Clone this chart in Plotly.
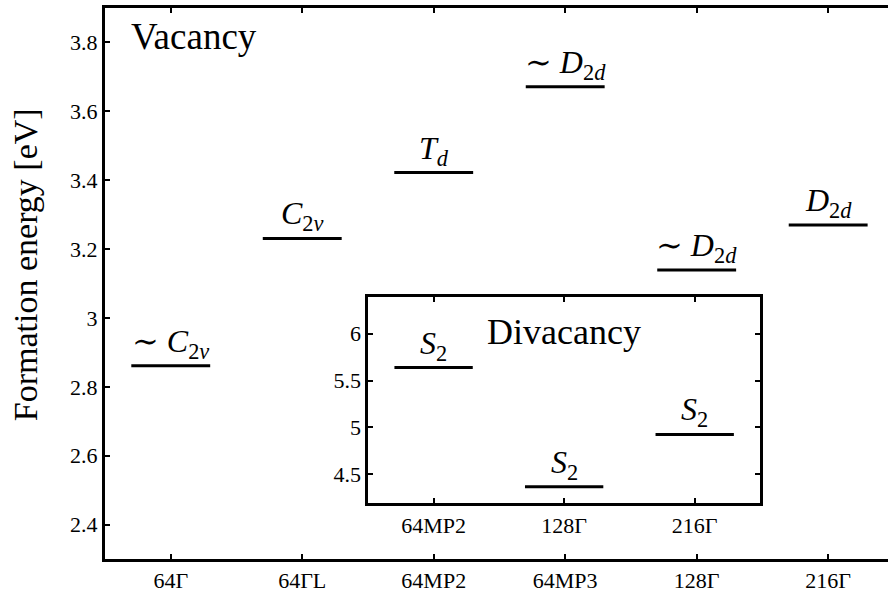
import plotly.graph_objects as go

# ---- data ----
vac_categories = ["64Γ", "64ΓL", "64MP2", "64MP3", "128Γ", "216Γ"]
vac_energies = [2.861, 3.231, 3.422, 3.671, 3.139, 3.270]
vac_symmetry = ["∼ <i>C</i><sub>2<i>v</i></sub>", "<i>C</i><sub>2<i>v</i></sub>",
                "<i>T</i><sub><i>d</i></sub>", "∼ <i>D</i><sub>2<i>d</i></sub>",
                "∼ <i>D</i><sub>2<i>d</i></sub>", "<i>D</i><sub>2<i>d</i></sub>"]

div_categories = ["64MP2", "128Γ", "216Γ"]
div_energies = [5.64, 4.367, 4.926]
div_symmetry = ["<i>S</i><sub>2</sub>", "<i>S</i><sub>2</sub>", "<i>S</i><sub>2</sub>"]

vac_yticks = [2.4, 2.6, 2.8, 3.0, 3.2, 3.4, 3.6, 3.8]
vac_yticktext = ["2.4", "2.6", "2.8", "3", "3.2", "3.4", "3.6", "3.8"]
div_yticks = [4.5, 5.0, 5.5, 6.0]
div_yticktext = ["4.5", "5", "5.5", "6"]

HALF = 0.3
FONT = "'Times New Roman', 'Liberation Serif', 'DejaVu Serif', serif"

fig = go.Figure()

def level_trace(positions, values, xa, ya):
    xs, ys = [], []
    for p, v in zip(positions, values):
        xs += [p - HALF, p + HALF, None]
        ys += [v, v, None]
    return go.Scatter(x=xs, y=ys, mode="lines", line=dict(color="black", width=3),
                      xaxis=xa, yaxis=ya, hoverinfo="skip", showlegend=False)

vac_pos = list(range(1, len(vac_categories) + 1))
div_pos = list(range(1, len(div_categories) + 1))

fig.add_trace(level_trace(vac_pos, vac_energies, "x", "y"))
fig.add_trace(level_trace(div_pos, div_energies, "x2", "y2"))

annotations = []
for p, v, t in zip(vac_pos, vac_energies, vac_symmetry):
    annotations.append(dict(x=p, y=v, xref="x", yref="y", text=t, showarrow=False,
                            yanchor="bottom", xanchor="center", yshift=0,
                            font=dict(family=FONT, size=32, color="black")))
for p, v, t in zip(div_pos, div_energies, div_symmetry):
    annotations.append(dict(x=p, y=v, xref="x2", yref="y2", text=t, showarrow=False,
                            yanchor="bottom", xanchor="center", yshift=0,
                            font=dict(family=FONT, size=32, color="black")))
annotations.append(dict(x=0.5, y=3.9, xref="x", yref="y", text="Vacancy", showarrow=False,
                        xanchor="left", yanchor="top", xshift=24, yshift=-6,
                        font=dict(family=FONT, size=37, color="black")))
annotations.append(dict(x=2.0, y=div_energies[0], xref="x2", yref="y2", text="Divacancy",
                        showarrow=False, xanchor="center", yanchor="middle", yshift=36,
                        font=dict(family=FONT, size=36, color="black")))
annotations.append(dict(x=-0.1022, y=0.535, xref="paper", yref="paper",
                        text="Formation energy [eV]", showarrow=False, textangle=-90,
                        xanchor="center", yanchor="middle",
                        font=dict(family=FONT, size=34, color="black")))

tickfont = dict(family=FONT, size=22, color="black")
axis_common = dict(showline=True, linecolor="black", linewidth=3, ticks="inside",
                   ticklen=5, tickwidth=2, tickcolor="black", showgrid=False,
                   zeroline=False, tickfont=tickfont)

fig.update_layout(
    width=888, height=593,
    margin=dict(l=105, r=0, t=8, b=26),
    paper_bgcolor="white", plot_bgcolor="white",
    font=dict(family=FONT, color="black"),
    annotations=annotations,
    xaxis=dict(range=[0.5, 6.455], tickvals=vac_pos, ticktext=vac_categories,
               mirror="allticks", domain=[0, 1], **axis_common),
    yaxis=dict(range=[2.3, 3.9], tickvals=vac_yticks, ticktext=vac_yticktext,
               mirror=False, domain=[0, 1], **axis_common),
    xaxis2=dict(range=[0.5, 3.5], tickvals=div_pos, ticktext=div_categories,
                mirror="allticks", anchor="y2", domain=[0.3363, 0.8365], **axis_common),
    yaxis2=dict(range=[4.19, 6.39], tickvals=div_yticks, ticktext=div_yticktext,
                mirror="allticks", anchor="x2", domain=[0.1011, 0.475], **axis_common),
)

fig.write_html("out.html")
